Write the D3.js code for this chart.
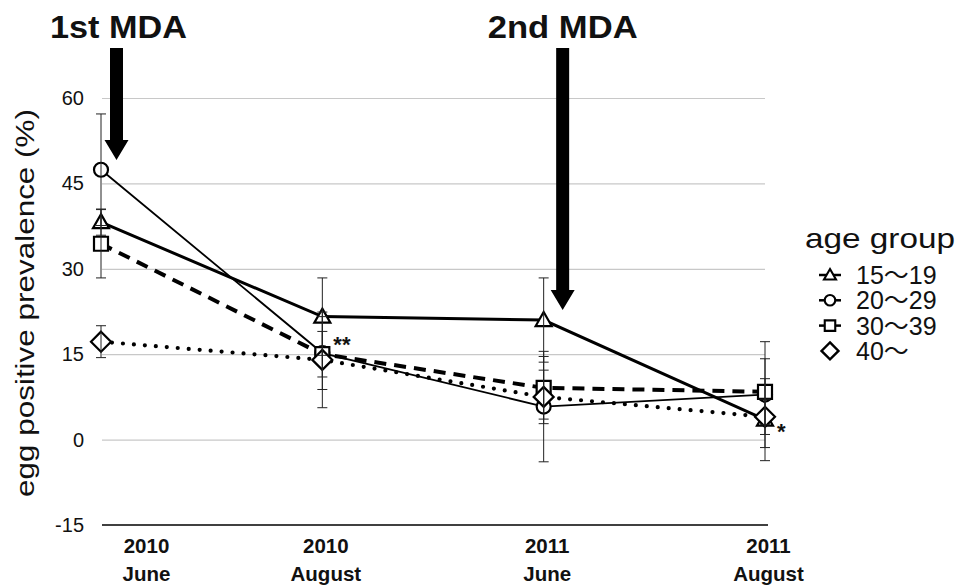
<!DOCTYPE html>
<html>
<head>
<meta charset="utf-8">
<script src="https://cdn.jsdelivr.net/npm/d3@7"></script>
<style>
  html, body { margin: 0; padding: 0; background: #fff; }
  svg { display: block; }
  text { font-family: "Liberation Sans", Arial, "Noto Sans CJK JP", sans-serif; fill: #111; }
</style>
</head>
<body>
<svg id="chart" width="960" height="585"></svg>
<script>
// ---------- data ----------
const years = ["2010", "2010", "2011", "2011"];
const months = ["June", "August", "June", "August"];
const categories = ["2010 June", "2010 August", "2011 June", "2011 August"];
const seriesNames = ["15～19", "20～29", "30～39", "40～"];
const values15 = [38.2, 21.6, 21.0, 3.5];
const errors15 = [2.3, 6.8, 7.4, 7.2];
const values20 = [47.4, 15.2, 5.8, 7.9];
const errors20 = [9.8, 6.4, 9.7, 9.3];
const values30 = [34.4, 15.0, 9.1, 8.4];
const errors30 = [6.0, 4.0, 5.5, 5.8];
const values40 = [17.2, 14.0, 7.5, 4.0];
const errors40 = [2.8, 8.4, 4.7, 3.1];
const yTicks = [-15, 0, 15, 30, 45, 60];
const mdaLabels = ["1st MDA", "2nd MDA"];
const mdaIndex = [0, 2];
const sigMarks = [{cat: 1, v: 15.2, t: "**"}, {cat: 3, v: 3.5, t: "*"}];

// ---------- layout ----------
const svg = d3.select("#chart");
const x = d3.scalePoint().domain(categories).range([101, 765]).padding(0);
const y = d3.scaleLinear().domain([-15, 60]).range([525, 98]);

const series = [
  {name: seriesNames[0], v: values15, e: errors15, shape: "tri", width: 3, dash: null},
  {name: seriesNames[1], v: values20, e: errors20, shape: "circ", width: 1.8, dash: null},
  {name: seriesNames[2], v: values30, e: errors30, shape: "sq", width: 4, dash: "12,8"},
  {name: seriesNames[3], v: values40, e: errors40, shape: "dia", width: 4.2, dash: "0,11"}
];

function markerPath(shape) {
  switch (shape) {
    case "tri": return "M0,-8 L8,6 L-8,6 Z";
    case "circ": return "M7,0 A7,7 0 1,1 -7,0 A7,7 0 1,1 7,0 Z";
    case "sq": return "M-7,-7 L7,-7 L7,7 L-7,7 Z";
    case "dia": return "M0,-10 L10,0 L0,10 L-10,0 Z";
  }
}

// gridlines
svg.append("g")
  .attr("transform", "translate(102,0)")
  .call(d3.axisLeft(y).tickValues(yTicks.filter(t => t > -15)).tickSize(-663).tickFormat(""))
  .call(g => g.select(".domain").remove())
  .call(g => g.selectAll("line").attr("stroke", "#c8c8c8").attr("stroke-width", 1.2));

// y tick labels
svg.append("g")
  .attr("transform", "translate(84,0)")
  .call(d3.axisLeft(y).tickValues(yTicks).tickSize(0).tickPadding(0).tickFormat(d => String(d)))
  .call(g => g.select(".domain").remove())
  .call(g => g.selectAll("text").attr("font-size", 20).attr("fill", "#111")
      .style("font-family", "'Liberation Sans', Arial, sans-serif"));

// x axis
const xAxis = svg.append("g")
  .attr("transform", "translate(0,525)")
  .call(d3.axisBottom(x).tickSize(0).tickFormat(""));
xAxis.select(".domain").attr("stroke", "#000").attr("stroke-width", 1.5).attr("d", "M102,0H768");
xAxis.selectAll(".tick").each(function(d, i) {
  const t = d3.select(this).append("text")
    .attr("text-anchor", "middle")
    .attr("fill", "#111")
    .attr("transform", `translate(${i === 0 ? 45 : 3},0)`)
    .style("font-family", "'Liberation Sans', Arial, sans-serif")
    .style("font-weight", "bold")
    .attr("font-size", 20.5);
  t.append("tspan").attr("x", 0).attr("y", 28).text(years[i]);
  t.append("tspan").attr("x", 0).attr("y", 56).text(months[i]);
});

// y-axis title
svg.append("text")
  .attr("transform", "translate(34,303) rotate(-90)")
  .attr("text-anchor", "middle")
  .attr("font-size", 25)
  .attr("fill", "#222")
  .attr("textLength", 388)
  .attr("lengthAdjust", "spacingAndGlyphs")
  .text("egg positive prevalence (%)");

// lines
const line = d3.line().x((d, i) => x(categories[i])).y(d => y(d));
series.forEach(s => {
  svg.append("path")
    .datum(s.v)
    .attr("d", line)
    .attr("fill", "none")
    .attr("stroke", "#000")
    .attr("stroke-width", s.width)
    .attr("stroke-linecap", s.shape === "dia" ? "round" : "butt")
    .attr("stroke-dasharray", s.dash);
});

// markers
series.forEach(s => {
  svg.append("g").selectAll("path")
    .data(s.v)
    .join("path")
    .attr("transform", (d, i) => `translate(${x(categories[i])},${y(d)})`)
    .attr("d", markerPath(s.shape))
    .attr("fill", "#fff")
    .attr("stroke", "#000")
    .attr("stroke-width", 2.2);
});

// error bars
series.forEach(s => {
  const g = svg.append("g").attr("stroke", "#222").attr("stroke-width", 1);
  s.v.forEach((d, i) => {
    const cx = x(categories[i]);
    g.append("line").attr("x1", cx).attr("x2", cx).attr("y1", y(d + s.e[i])).attr("y2", y(d - s.e[i]));
    g.append("line").attr("x1", cx - 5).attr("x2", cx + 5).attr("y1", y(d + s.e[i])).attr("y2", y(d + s.e[i]));
    g.append("line").attr("x1", cx - 5).attr("x2", cx + 5).attr("y1", y(d - s.e[i])).attr("y2", y(d - s.e[i]));
  });
});

// significance marks
sigMarks.forEach(m => {
  svg.append("text")
    .attr("x", x(categories[m.cat]) + (m.t === "**" ? 11 : 12))
    .attr("y", y(m.v) + (m.t === "**" ? -1 : 19))
    .attr("font-size", 22)
    .attr("font-weight", "bold")
    .attr("fill", "#222")
    .text(m.t);
});

// MDA arrows and labels
const arrowDx = [15.5, 19];
const arrowTip = [160, 310];
const labelLen = [137, 150];
mdaIndex.forEach((ci, k) => {
  const cx = x(categories[ci]) + arrowDx[k];
  const top = 48, tip = arrowTip[k], headTop = tip - 20;
  svg.append("path")
    .attr("d", `M${cx - 6.5},${top} H${cx + 6.5} V${headTop} H${cx + 12} L${cx},${tip} L${cx - 12},${headTop} H${cx - 6.5} Z`)
    .attr("fill", "#000");
  svg.append("text")
    .attr("x", cx + (k === 0 ? 2 : 0))
    .attr("y", 38)
    .attr("text-anchor", "middle")
    .attr("font-size", 31)
    .attr("font-weight", "bold")
    .attr("fill", "#000")
    .attr("textLength", labelLen[k])
    .attr("lengthAdjust", "spacingAndGlyphs")
    .text(mdaLabels[k]);
});

// legend
const lg = svg.append("g").attr("transform", "translate(805,0)");
lg.append("text").attr("x", 0).attr("y", 248).attr("font-size", 28).attr("fill", "#222")
  .attr("textLength", 150).attr("lengthAdjust", "spacingAndGlyphs").text("age group");
series.forEach((s, i) => {
  const cy = 275 + i * 25.3;
  const row = lg.append("g").attr("transform", `translate(25,${cy})`);
  if (s.shape !== "dia") {
    row.append("line").attr("x1", -11).attr("x2", 11).attr("stroke", "#000").attr("stroke-width", 2.5);
  }
  const sc = s.shape === "dia" ? 0.85 : 0.75;
  row.append("path").attr("d", markerPath(s.shape)).attr("transform", `scale(${sc})`)
    .attr("fill", "#fff").attr("stroke", "#000").attr("stroke-width", 2.8);
  row.append("text").attr("x", 26).attr("y", 9).attr("font-size", 25).attr("fill", "#222")
    .style("font-family", "'Liberation Sans', Arial, 'Noto Sans CJK JP', sans-serif")
    .text(s.name);
});
</script>
</body>
</html>
